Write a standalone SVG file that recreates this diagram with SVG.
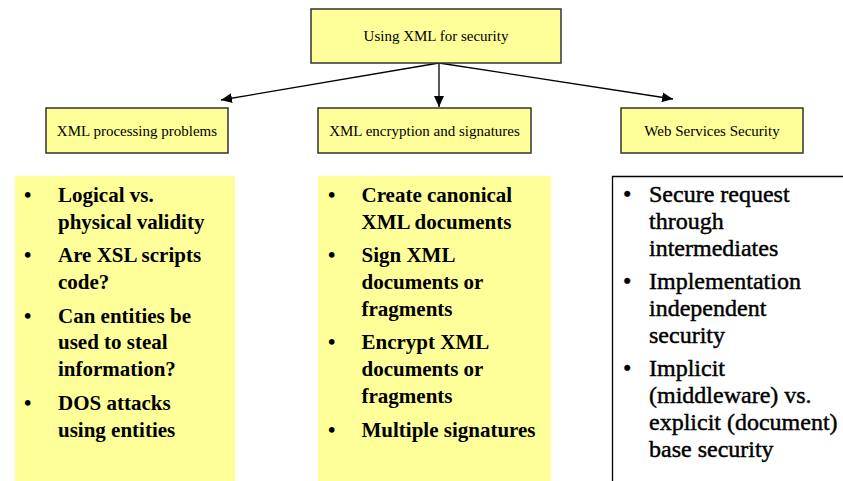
<svg xmlns="http://www.w3.org/2000/svg" width="843" height="481" viewBox="0 0 843 481">
<style>
.box{fill:#FFFF99;stroke:#333;stroke-width:1.5}
.panel{fill:#FFFF99;stroke:none}
text{font-family:'Liberation Serif','DejaVu Serif',serif}
.hdr{font-size:15px;fill:#000;text-anchor:middle}
.b{font-size:21px;font-weight:bold;fill:#000}
.r{font-size:24px;fill:#000;stroke:#000;stroke-width:0.45}
.con{stroke:#000;stroke-width:1.3;fill:none;marker-end:url(#ah)}
</style>
<defs>
<marker id="ah" markerUnits="userSpaceOnUse" markerWidth="12" markerHeight="10" refX="11" refY="5" orient="auto">
<path d="M0,0 L11,5 L0,10 Z" fill="#000"/>
</marker>
</defs>
<rect width="843" height="481" fill="#fff"/>
<g id="connectors">
<line class="con" x1="439" y1="63" x2="439" y2="107"/>
<line class="con" x1="439" y1="63" x2="221" y2="100"/>
<line class="con" x1="439" y1="63" x2="673" y2="99"/>
</g>
<g id="root">
<rect class="box" x="311" y="9" width="250" height="54"/>
<text class="hdr" x="436" y="41">Using XML for security</text>
</g>
<g id="processing">
<rect class="box" x="46" y="108" width="182" height="45"/>
<text class="hdr" x="137" y="136">XML processing problems</text>
</g>
<g id="encryption">
<rect class="box" x="318" y="108" width="213" height="45"/>
<text class="hdr" x="424.5" y="136">XML encryption and signatures</text>
</g>
<g id="webservices">
<rect class="box" x="621" y="108" width="182" height="45"/>
<text class="hdr" x="712" y="136">Web Services Security</text>
</g>
<g id="panel-processing">
<rect class="panel" x="15" y="176" width="220" height="305"/>
<text class="b">
<tspan x="24" y="202">•</tspan><tspan x="58" y="202">Logical vs.</tspan>
<tspan x="58" y="228.8">physical validity</tspan>
<tspan x="24" y="262.3">•</tspan><tspan x="58" y="262.3">Are XSL scripts</tspan>
<tspan x="58" y="289.1">code?</tspan>
<tspan x="24" y="322.6">•</tspan><tspan x="58" y="322.6">Can entities be</tspan>
<tspan x="58" y="349.4">used to steal</tspan>
<tspan x="58" y="376.2">information?</tspan>
<tspan x="24" y="409.7">•</tspan><tspan x="58" y="409.7">DOS attacks</tspan>
<tspan x="58" y="436.5">using entities</tspan>
</text>
</g>
<g id="panel-encryption">
<rect class="panel" x="318" y="176" width="233" height="305"/>
<text class="b">
<tspan x="328" y="202">•</tspan><tspan x="361.5" y="202">Create canonical</tspan>
<tspan x="361.5" y="228.8">XML documents</tspan>
<tspan x="328" y="262.3">•</tspan><tspan x="361.5" y="262.3">Sign XML</tspan>
<tspan x="361.5" y="289.1">documents or</tspan>
<tspan x="361.5" y="315.9">fragments</tspan>
<tspan x="328" y="349.4">•</tspan><tspan x="361.5" y="349.4">Encrypt XML</tspan>
<tspan x="361.5" y="376.2">documents or</tspan>
<tspan x="361.5" y="403">fragments</tspan>
<tspan x="328" y="436.5">•</tspan><tspan x="361.5" y="436.5">Multiple signatures</tspan>
</text>
</g>
<g id="panel-webservices">
<path d="M612.5,481 V176.5 H843" fill="none" stroke="#000" stroke-width="1.3"/>
<text class="r">
<tspan x="623" y="202">•</tspan><tspan x="649" y="202">Secure request</tspan>
<tspan x="649" y="228.8">through</tspan>
<tspan x="649" y="255.6">intermediates</tspan>
<tspan x="623" y="289.1">•</tspan><tspan x="649" y="289.1">Implementation</tspan>
<tspan x="649" y="315.9">independent</tspan>
<tspan x="649" y="342.7">security</tspan>
<tspan x="623" y="376.2">•</tspan><tspan x="649" y="376.2">Implicit</tspan>
<tspan x="649" y="403">(middleware) vs.</tspan>
<tspan x="649" y="429.8">explicit (document)</tspan>
<tspan x="649" y="456.6">base security</tspan>
</text>
</g>
</svg>
